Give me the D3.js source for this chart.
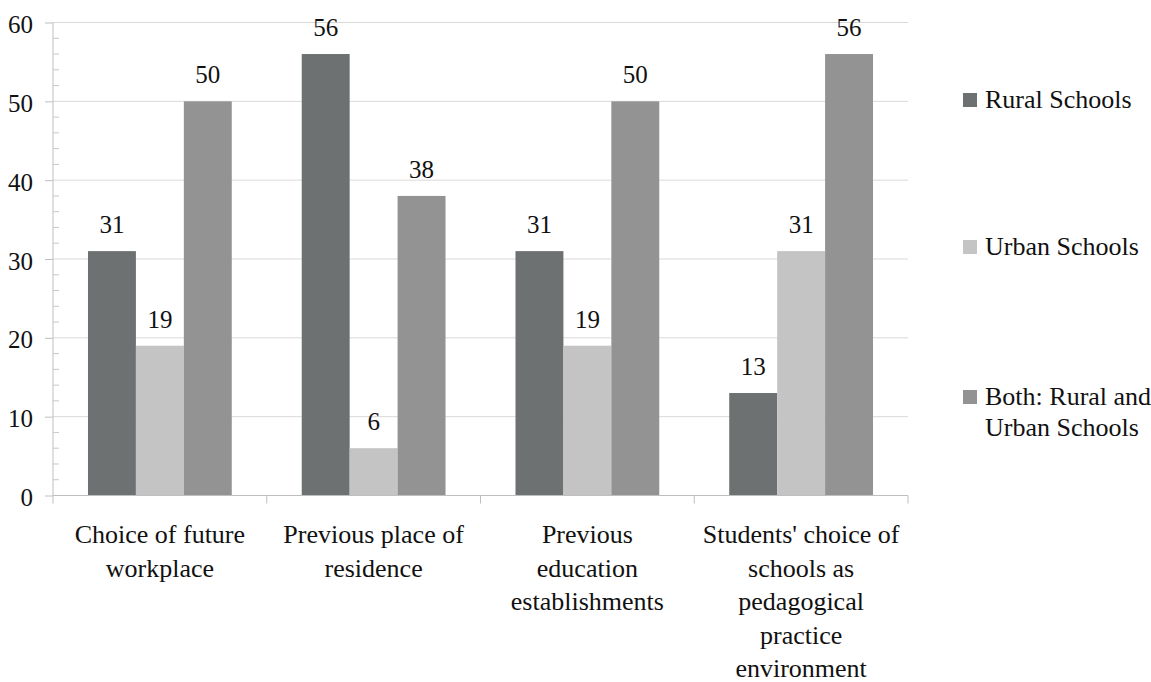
<!DOCTYPE html>
<html><head><meta charset="utf-8">
<script src="https://cdn.jsdelivr.net/npm/d3@7"></script>
<style>body{margin:0;background:#fff}svg{display:block}svg text{font-family:"Liberation Serif" !important}</style>
</head><body><svg id="c" width="1151" height="682" font-family="Liberation Serif"></svg>
<script>
const categories = [
  ["Choice of future", "workplace"],
  ["Previous place of", "residence"],
  ["Previous", "education", "establishments"],
  ["Students' choice of", "schools as", "pedagogical", "practice", "environment"]
];
const seriesNames = ["Rural Schools", "Urban Schools", "Both: Rural and Urban Schools"];
const legendLines = [["Rural Schools"], ["Urban Schools"], ["Both: Rural and", "Urban Schools"]];
const rural = [31, 56, 31, 13];
const urban = [19, 6, 19, 31];
const both = [50, 38, 50, 56];
const yTicks = [0, 10, 20, 30, 40, 50, 60];
const colors = ["#6e7171", "#c4c4c4", "#939393"];

const values = [rural, urban, both];
const svg = d3.select("#c");
const L = 53, R = 908, T = 22.5, B = 495.5;
const catIdx = categories.map((c, i) => i);
const x0 = d3.scaleBand().domain(catIdx).range([L, R]).padding(0);
const x1 = d3.scaleBand().domain([0, 1, 2]).range([0, x0.bandwidth()]).paddingInner(0).paddingOuter(0.73);
const y = d3.scaleLinear().domain([0, 60]).range([B, T]);

function txt(sel) { return sel.attr("font-family", "Liberation Serif").style("font-family", '"Liberation Serif"').attr("fill", "#111"); }

// gridlines
svg.append("g").selectAll("line").data(yTicks.filter(v => v > 0)).join("line")
  .attr("x1", L).attr("x2", R).attr("y1", d => y(d)).attr("y2", d => y(d))
  .attr("stroke", "#d9d9d9").attr("stroke-width", 1);

// minor ticks
const minor = d3.range(0, 60, 2).filter(v => v % 10 !== 0);
svg.append("g").selectAll("line").data(minor).join("line")
  .attr("x1", L).attr("x2", L + 6).attr("y1", d => y(d)).attr("y2", d => y(d))
  .attr("stroke", "#c8c8c8");

// bars
const g = svg.append("g");
catIdx.forEach(ci => {
  values.forEach((arr, si) => {
    const v = arr[ci];
    const bx = x0(ci) + x1(si);
    g.append("rect").attr("x", bx).attr("y", y(v)).attr("width", x1.bandwidth()).attr("height", y(0) - y(v))
      .attr("fill", colors[si]);
    txt(g.append("text")).attr("x", bx + x1.bandwidth() / 2).attr("y", y(v) - 18)
      .attr("text-anchor", "middle").attr("font-size", 25).text(v);
  });
});

// y axis
const yAxis = d3.axisLeft(y).tickValues(yTicks).tickSize(8).tickPadding(12).tickFormat(d3.format("d"));
const ya = svg.append("g").attr("transform", `translate(${L},0)`).call(yAxis);
ya.attr("font-family", "Liberation Serif").attr("font-size", 25);
ya.select(".domain").attr("stroke", "#bfbfbf").attr("d", `M0,${T}V${B + 8}`);
ya.selectAll(".tick line").attr("stroke", "#bfbfbf");
txt(ya.selectAll(".tick text")).attr("x", -20).attr("dy", null).attr("y", 10);

// x axis baseline and category ticks
svg.append("line").attr("x1", L).attr("x2", R).attr("y1", B).attr("y2", B).attr("stroke", "#bfbfbf");
const bounds = catIdx.map(i => x0(i) + x0.bandwidth());
svg.append("g").selectAll("line").data(bounds).join("line")
  .attr("x1", d => d).attr("x2", d => d).attr("y1", B).attr("y2", B + 8).attr("stroke", "#bfbfbf");

// x labels
catIdx.forEach(ci => {
  const cx = x0(ci) + x0.bandwidth() / 2;
  const t = txt(svg.append("text")).attr("text-anchor", "middle").attr("font-size", 26);
  categories[ci].forEach((line, li) => {
    t.append("tspan").attr("x", cx).attr("y", 543 + li * 33.5).text(line);
  });
});

// legend
const legBase = [108, 255, 405];
legendLines.forEach((lines, i) => {
  svg.append("rect").attr("x", 963).attr("y", legBase[i] - 15).attr("width", 14).attr("height", 14).attr("fill", colors[i]);
  const t = txt(svg.append("text")).attr("font-size", 26);
  lines.forEach((line, li) => {
    t.append("tspan").attr("x", 985).attr("y", legBase[i] + li * 31).text(line);
  });
});
</script></body></html>
